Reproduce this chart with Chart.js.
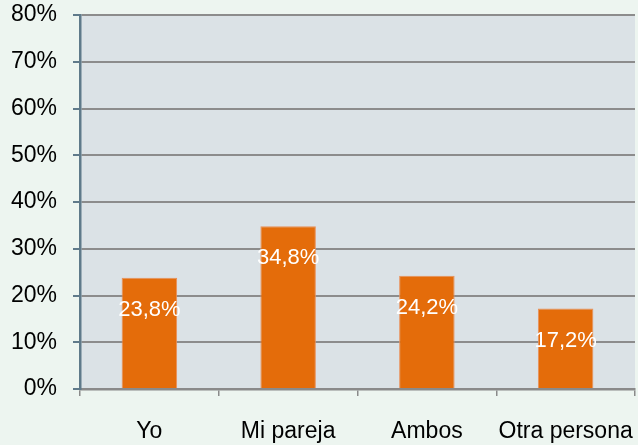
<!DOCTYPE html>
<html>
<head>
<meta charset="utf-8">
<script src="https://cdn.jsdelivr.net/npm/chart.js@4"></script>
<style>
  html, body { margin: 0; padding: 0; background: #edf5f0; }
  #wrap { width: 638px; height: 445px; }
</style>
</head>
<body>
<div id="wrap"><canvas id="myChart" width="638" height="445"></canvas></div>
<script>
// datos del gráfico
const categorias = ['Yo', 'Mi pareja', 'Ambos', 'Otra persona'];
const valores = [23.8, 34.8, 24.2, 17.2];
const etiquetas = ['23,8%', '34,8%', '24,2%', '17,2%'];

// fondo gris del área de trazado
const fondoPlot = {
    id: 'fondoPlot',
    beforeDraw(chart) {
        const a = chart.chartArea;
        const ctx = chart.ctx;
        ctx.save();
        ctx.fillStyle = '#dbe2e6';
        ctx.fillRect(a.left, a.top, a.right - a.left, a.bottom - a.top);
        ctx.restore();
    }
};

// etiquetas blancas dentro de las barras
const etiquetasBarras = {
    id: 'etiquetasBarras',
    afterDatasetsDraw(chart) {
        const ctx = chart.ctx;
        const meta = chart.getDatasetMeta(0);
        ctx.save();
        ctx.fillStyle = '#ffffff';
        ctx.font = '22px "Liberation Sans", Arial, sans-serif';
        ctx.textAlign = 'center';
        ctx.textBaseline = 'middle';
        meta.data.forEach((bar, i) => {
            ctx.fillText(etiquetas[i], bar.x, bar.y + 32);
        });
        ctx.restore();
    }
};

// quitar el relleno automático de las escalas
function sinRelleno(scale) {
    scale.paddingTop = 0;
    scale.paddingBottom = 0;
    scale.paddingLeft = 0;
    scale.paddingRight = 0;
}

const ctx = document.getElementById('myChart').getContext('2d');
new Chart(ctx, {
    type: 'bar',
    data: {
        labels: categorias,
        datasets: [{
            data: valores,
            backgroundColor: '#e46c0a',
            borderColor: '#e9905a',
            borderWidth: 1,
            categoryPercentage: 1,
            barPercentage: 0.4
        }]
    },
    options: {
        responsive: false,
        animation: false,
        layout: { padding: { top: 15, right: 3, left: 0, bottom: 0 } },
        plugins: {
            legend: { display: false },
            tooltip: { enabled: false }
        },
        scales: {
            x: {
                afterFit(scale) { scale.height = 56; sinRelleno(scale); },
                grid: {
                    offset: true,
                    drawOnChartArea: false,
                    color: '#8a8a8a',
                    tickLength: 7,
                    lineWidth: 1.5
                },
                border: { color: '#8a8a8a', width: 2.5 },
                ticks: {
                    color: '#000',
                    padding: 22,
                    maxRotation: 0,
                    font: { family: '"Liberation Sans", Arial, sans-serif', size: 23 }
                }
            },
            y: {
                min: 0,
                max: 80,
                afterFit(scale) { scale.width = 80; sinRelleno(scale); },
                grid: {
                    color: '#8c8c8c',
                    lineWidth: 2,
                    tickColor: '#5f7a8a',
                    tickLength: 7
                },
                border: { color: '#5f7a8a', width: 2.5 },
                ticks: {
                    stepSize: 10,
                    color: '#000',
                    padding: 16,
                    font: { family: '"Liberation Sans", Arial, sans-serif', size: 23 },
                    callback: v => v + '%'
                }
            }
        }
    },
    plugins: [fondoPlot, etiquetasBarras]
});
</script>
</body>
</html>
